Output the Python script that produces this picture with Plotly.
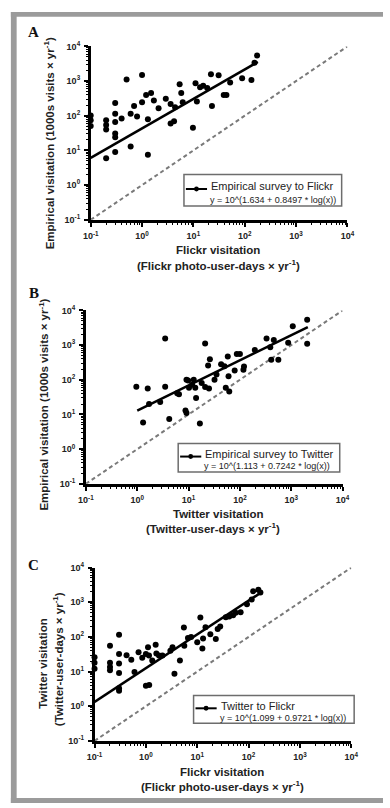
import math
import plotly.graph_objects as go

# ---------------- data ----------------
# Panel A: Flickr visitation (x) vs empirical visitation (y)
a_x = [0.1, 0.1, 0.1, 0.2, 0.2, 0.2, 0.3, 0.3, 0.3, 0.3, 0.3, 0.3, 0.2, 0.4, 0.5,
       0.6, 0.6, 0.7, 0.8, 1.0, 1.0, 1.2, 1.3, 1.3, 1.5, 1.7, 2.1, 2.9, 3.6, 3.6,
       4.2, 4.4, 5.4, 5.8, 6.2, 9.8, 11, 11.7, 13.5, 15.5, 18.6, 22, 23, 31, 39,
       44, 52, 89, 135, 155, 174]
a_y = [102, 74, 51, 74, 54, 40, 234, 115, 66, 31, 24, 9, 6, 83, 1120,
       13, 115, 190, 95, 1510, 245, 400, 80, 7.5, 455, 275, 166, 310, 220, 60,
       69, 175, 810, 457, 245, 45, 870, 257, 660, 730, 630, 1580, 190, 1480, 398,
       398, 910, 1200, 1070, 3390, 5500]

# Panel B: Twitter visitation (x) vs empirical visitation (y)
b_x = [0.96, 1.6, 1.3, 1.7, 2.8, 3.5, 3.5, 4.2, 6.5, 6.0, 9.1, 9.8, 8.7, 9.1,
       10.2, 11.7, 12.6, 13.5, 14, 16.6, 21, 18, 21, 25, 26, 24, 32, 35, 43, 50,
       53, 62, 58, 60, 79, 87, 100, 117, 120, 195, 330, 390, 407, 457, 560, 870,
       1070, 2040, 2040]
b_y = [63, 56, 5.9, 20, 23, 1550, 63, 7.4, 38, 41, 100, 95, 13, 11,
       59, 72, 100, 59, 30, 5.5, 1120, 81, 62, 56, 390, 257, 100, 141, 282, 245,
       59, 46, 470, 126, 186, 550, 550, 195, 240, 724, 1550, 870, 380, 1410, 380, 1175,
       3470, 1100, 5370]

# Panel C: Flickr visitation (x) vs Twitter visitation (y)
c_x = [0.1, 0.1, 0.1, 0.2, 0.3, 0.2, 0.2, 0.2, 0.3, 0.3, 0.3, 0.3, 0.3, 0.42, 0.52,
       0.6, 0.72, 0.85, 1.0, 1.0, 1.16, 1.1, 1.15, 1.33, 1.55, 1.6, 1.8, 2.1, 3.0,
       3.3, 3.6, 4.6, 5.5, 5.6, 6.6, 7.6, 10, 11.5, 12.6, 13, 14.5, 18, 23, 25, 28,
       36, 42, 50, 56, 70, 93, 115, 123, 155, 170]
c_y = [26, 18, 12, 56, 115, 18, 13.5, 11, 32, 17, 9.1, 3.3, 2.8, 29.5, 22,
       9.8, 36, 25, 32, 3.9, 4.1, 50, 29, 21, 59, 33, 29, 29, 40,
       50, 8.7, 21, 186, 56, 93, 100, 70, 363, 46, 90, 190, 120, 87, 170, 200,
       370, 390, 420, 500, 510, 870, 1200, 2090, 2290, 1900]

# regression fits: y = 10^(a + b*log10(x)) over the fitted x-range
fit_a = [1.634, 0.8497]
fit_b = [1.113, 0.7242]
fit_c = [1.099, 0.9721]
fit_range_a = [0.1, 180]
fit_range_b = [1.0, 2100]
fit_range_c = [0.1, 180]

tick_vals = [0.1, 1, 10, 100, 1000, 10000]
tick_text = ["10<sup>-1</sup>", "10<sup>0</sup>", "10<sup>1</sup>",
             "10<sup>2</sup>", "10<sup>3</sup>", "10<sup>4</sup>"]

legend_a = ["Empirical survey to Flickr", "y = 10^(1.634 + 0.8497 * log(x))"]
legend_b = ["Empirical survey to Twitter", "y = 10^(1.113 + 0.7242 * log(x))"]
legend_c = ["Twitter to Flickr", "y = 10^(1.099 + 0.9721 * log(x))"]

# ---------------- layout helpers ----------------
W, H = 390, 808
def fx(p):
    return p / W
def fy(p):
    return 1 - p / H

FONT = "Liberation Sans, Arial, sans-serif"
TXT = "#222222"

# panel pixel boxes: (left, right, top, bottom)
boxes = {
    "a": (86, 353, 40, 216),
    "b": (81, 348, 308, 484),
    "c": (90, 357, 569, 745),
}

fig = go.Figure()

minor_vals = [m * 10 ** e for e in range(-1, 4) for m in range(2, 10)]

def add_panel(idx, key, xs, ys, fit, frange):
    ax = "" if idx == 1 else str(idx)
    xref, yref = "x" + ax, "y" + ax
    # 1:1 dashed line
    fig.add_trace(go.Scatter(x=[tick_vals[0], tick_vals[-1]], y=[tick_vals[0], tick_vals[-1]],
                             mode="lines", line=dict(color="#7a7a7a", width=2, dash="4px,3px"),
                             xaxis=xref, yaxis=yref, showlegend=False, hoverinfo="skip"))
    # regression line
    n = 60
    lo, hi = frange
    lx = [10 ** (math.log10(lo) + (math.log10(hi) - math.log10(lo)) * i / (n - 1)) for i in range(n)]
    ly = [10 ** (fit[0] + fit[1] * math.log10(v)) for v in lx]
    fig.add_trace(go.Scatter(x=lx, y=ly, mode="lines", line=dict(color="black", width=2.5),
                             xaxis=xref, yaxis=yref, showlegend=False, hoverinfo="skip"))
    # points
    fig.add_trace(go.Scatter(x=xs, y=ys, mode="markers",
                             marker=dict(color="black", size=6, line=dict(width=0)),
                             xaxis=xref, yaxis=yref, showlegend=False, cliponaxis=False))
    l, r, t, b = boxes[key]
    common = dict(type="log", range=[-1, 4], tickmode="array", tickvals=tick_vals,
                  ticktext=["<b>%s</b>" % s for s in tick_text], ticks="outside", ticklen=4, tickwidth=2,
                  tickcolor="black", showline=True, linecolor="black", linewidth=2.5,
                  showgrid=False, zeroline=False,
                  tickfont=dict(family=FONT, size=9, color=TXT),
                  minor=dict(tickmode="array", tickvals=minor_vals, ticks="outside",
                             ticklen=2, tickwidth=1, tickcolor="black", showgrid=False))
    fig.layout["xaxis" + ax] = dict(common, domain=[fx(l), fx(r)], anchor=yref, ticklabelstandoff=2)
    fig.layout["yaxis" + ax] = dict(common, domain=[fy(b), fy(t)], anchor=xref, ticklabelstandoff=2)

add_panel(1, "a", a_x, a_y, fit_a, fit_range_a)
add_panel(2, "b", b_x, b_y, fit_b, fit_range_b)
add_panel(3, "c", c_x, c_y, fit_c, fit_range_c)

shapes = []
annotations = []

def ann(text, x, y, size, angle=0, bold=False, family=FONT, xanchor="center", color=TXT):
    annotations.append(dict(text=("<b>%s</b>" % text) if bold else text,
                            x=fx(x), y=fy(y), xref="paper", yref="paper",
                            showarrow=False, textangle=angle, xanchor=xanchor,
                            yanchor="middle", font=dict(family=family, size=size, color=color)))

# gray frame
GRAY = "#9b9b9b"
shapes.append(dict(type="rect", xref="paper", yref="paper", x0=fx(3), x1=fx(390), y0=fy(10), y1=fy(5),
                   fillcolor=GRAY, line=dict(width=0), layer="below"))
shapes.append(dict(type="rect", xref="paper", yref="paper", x0=fx(3), x1=fx(9), y0=fy(808), y1=fy(5),
                   fillcolor=GRAY, line=dict(width=0), layer="below"))
shapes.append(dict(type="rect", xref="paper", yref="paper", x0=fx(3), x1=fx(390), y0=fy(808), y1=fy(803),
                   fillcolor=GRAY, line=dict(width=0), layer="below"))

# panel letters
SERIF = "Liberation Serif, Times New Roman, serif"
ann("A", 26, 25, 15, bold=True, family=SERIF, color="#111")
ann("B", 27, 290, 15, bold=True, family=SERIF, color="#111")
ann("C", 27, 566, 15, bold=True, family=SERIF, color="#111")

# axis titles
TS = 11.5
ann("Empirical visitation (1000s visits × yr<sup>-1</sup>)", 43, 138, TS, angle=-90, bold=True)
ann("Flickr visitation", 218, 247, TS, bold=True)
ann("(Flickr photo-user-days × yr<sup>-1</sup>)", 219, 262, TS, bold=True)

ann("Empirical visitation (1000s visits × yr<sup>-1</sup>)", 37, 404, TS, angle=-90, bold=True)
ann("Twitter visitation", 219, 515, TS, bold=True)
ann("(Twitter-user-days × yr<sup>-1</sup>)", 213, 529, TS, bold=True)

ann("Twitter visitation", 37, 666, TS, angle=-90, bold=True)
ann("(Twitter-user-days × yr<sup>-1</sup>)", 52, 662, TS, angle=-90, bold=True)
ann("Flickr visitation", 223, 777, TS, bold=True)
ann("(Flickr photo-user-days × yr<sup>-1</sup>)", 223, 791, TS, bold=True)

# legend boxes
def legend_box(x0, y0, x1, y1, texts):
    shapes.append(dict(type="rect", xref="paper", yref="paper", x0=fx(x0), x1=fx(x1),
                       y0=fy(y1), y1=fy(y0), line=dict(color="#6d6d6d", width=1.5),
                       fillcolor="white"))
    ly = y0 + 0.46 * (y1 - y0)
    shapes.append(dict(type="line", xref="paper", yref="paper", x0=fx(x0 + 2), x1=fx(x0 + 24),
                       y0=fy(ly), y1=fy(ly), line=dict(color="black", width=2)))
    shapes.append(dict(type="circle", xref="paper", yref="paper", x0=fx(x0 + 10.5), x1=fx(x0 + 15.5),
                       y0=fy(ly + 2.5), y1=fy(ly - 2.5), fillcolor="black", line=dict(width=0)))
    ann(texts[0], x0 + 26, y0 + 0.36 * (y1 - y0), 11, xanchor="left")
    ann(texts[1], x0 + 25, y0 + 0.80 * (y1 - y0), 9, xanchor="left")

legend_box(183, 170, 347, 202, legend_a)
legend_box(177, 443, 345, 472, legend_b)
legend_box(193, 699, 360, 727, legend_c)

fig.update_layout(width=W, height=H, margin=dict(l=0, r=0, t=0, b=0),
                  paper_bgcolor="white", plot_bgcolor="white",
                  shapes=shapes, annotations=annotations, showlegend=False)

fig.write_html("out.html")
